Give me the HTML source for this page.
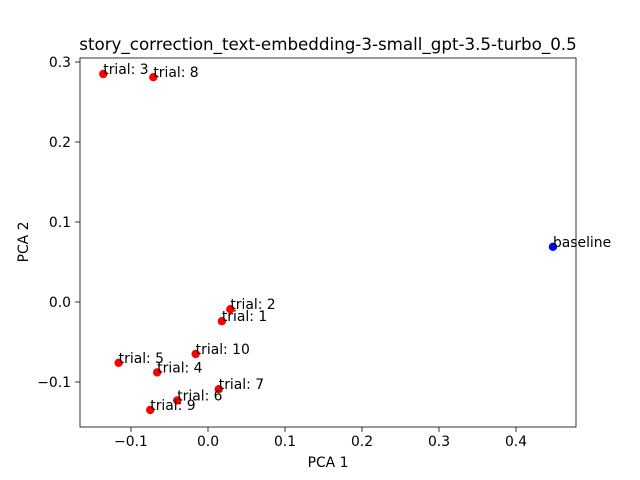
<!DOCTYPE html>
<html><head><meta charset="utf-8"><style>
body{margin:0;background:#fff}
svg{display:block;font-family:"DejaVu Sans","Liberation Sans",sans-serif}
</style></head><body>
<svg id="chart" width="640" height="480">
<rect x="0" y="0" width="640" height="480" fill="#fff"/>
<text x="328" y="50" font-size="16.7" text-anchor="middle">story_correction_text-embedding-3-small_gpt-3.5-turbo_0.5</text>
<text x="328" y="467" font-size="13.9" text-anchor="middle">PCA 1</text>
<text x="28" y="242" font-size="13.9" text-anchor="middle" transform="rotate(-90 28 242)">PCA 2</text>
<g id="ticks"></g>
<g id="points"></g>
<rect x="80" y="58" width="496" height="369" fill="none" stroke="#000" stroke-width="0.8"/>
</svg>
<script>
const labels=["baseline","trial: 3","trial: 8","trial: 2","trial: 1","trial: 10","trial: 5","trial: 4","trial: 7","trial: 6","trial: 9"];
const xs=[0.448,-0.136,-0.071,0.029,0.018,-0.016,-0.116,-0.066,0.014,-0.040,-0.075];
const ys=[0.069,0.285,0.281,-0.009,-0.024,-0.065,-0.076,-0.088,-0.109,-0.123,-0.135];
const xTicks=[-0.1,0.0,0.1,0.2,0.3,0.4];
const yTicks=[-0.1,0.0,0.1,0.2,0.3];
const NS="http://www.w3.org/2000/svg";
function sx(v){return 208+v*770;}
function sy(v){return 302-v*800;}
function mk(t,a,p){const e=document.createElementNS(NS,t);for(const k in a)e.setAttribute(k,a[k]);p.appendChild(e);return e;}
const tg=document.getElementById('ticks');
xTicks.forEach(v=>{const x=sx(v);
 const l=mk('line',{x1:x,x2:x,y1:427,y2:431.9,stroke:'#000','stroke-width':0.8},tg);
 
 
 const t=mk('text',{x:x,y:446,'font-size':13.9,'text-anchor':'middle'},tg);
 t.textContent=(v<0?'\u2212':'')+Math.abs(v).toFixed(1);
 
 });
yTicks.forEach(v=>{const y=sy(v);
 const l=mk('line',{x1:75.1,x2:80,y1:y,y2:y,stroke:'#000','stroke-width':0.8},tg);
 
 
 const t=mk('text',{x:71,y:y+5,'font-size':13.9,'text-anchor':'end'},tg);
 t.textContent=(v<0?'\u2212':'')+Math.abs(v).toFixed(1);
 
 });
const pg=document.getElementById('points');
labels.forEach((lb,i)=>{const x=sx(xs[i]),y=sy(ys[i]);
 const c=mk('circle',{cx:x,cy:y,r:4.2,fill:i===0?'#0000ff':'#ff0000'},pg);
 
 
 const t=mk('text',{x:x,y:y,'font-size':13.9},pg);
 t.textContent=lb;
 
 });
</script>
</body></html>
